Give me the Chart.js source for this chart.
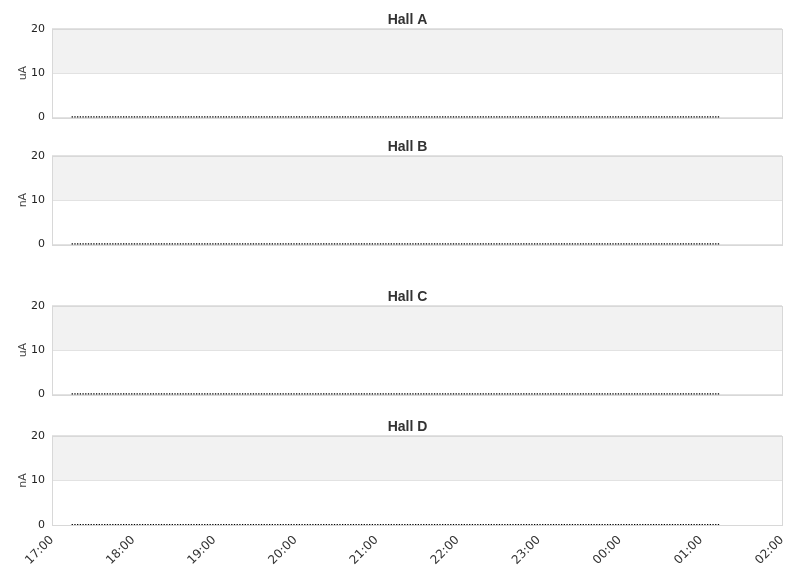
<!DOCTYPE html>
<html>
<head>
<meta charset="utf-8">
<script src="https://cdn.jsdelivr.net/npm/chart.js@4"></script>
<style>
  body { margin: 0; background: #fff; }
  canvas { position: absolute; left: 0; }
</style>
</head>
<body>
<canvas id="hallA" width="811" height="131" style="top:0px"></canvas>
<canvas id="hallB" width="811" height="131" style="top:127px"></canvas>
<canvas id="hallC" width="811" height="131" style="top:277px"></canvas>
<canvas id="hallD" width="811" height="172" style="top:407px"></canvas>
<script>
// sampling: every 2 min from 17:15 to 01:13 (minutes counted from 17:00)
const sampleStart = 15;
const sampleStep = 2;
const times = [];
for (let t = sampleStart; t <= 493; t += sampleStep) times.push(t);

const xTicks = ['17:00', '18:00', '19:00', '20:00', '21:00', '22:00', '23:00', '00:00', '01:00', '02:00'];
const yTicks = [0, 10, 20];

const hallA = [
  0,0,0,0,0,0,0,0,0,0,0,0,0,0,0,0,0,0,0,0,0,0,0,0,
  0,0,0,0,0,0,0,0,0,0,0,0,0,0,0,0,0,0,0,0,0,0,0,0,
  0,0,0,0,0,0,0,0,0,0,0,0,0,0,0,0,0,0,0,0,0,0,0,0,
  0,0,0,0,0,0,0,0,0,0,0,0,0,0,0,0,0,0,0,0,0,0,0,0,
  0,0,0,0,0,0,0,0,0,0,0,0,0,0,0,0,0,0,0,0,0,0,0,0,
  0,0,0,0,0,0,0,0,0,0,0,0,0,0,0,0,0,0,0,0,0,0,0,0,
  0,0,0,0,0,0,0,0,0,0,0,0,0,0,0,0,0,0,0,0,0,0,0,0,
  0,0,0,0,0,0,0,0,0,0,0,0,0,0,0,0,0,0,0,0,0,0,0,0,
  0,0,0,0,0,0,0,0,0,0,0,0,0,0,0,0,0,0,0,0,0,0,0,0,
  0,0,0,0,0,0,0,0,0,0,0,0,0,0,0,0,0,0,0,0,0,0,0,0
];
const hallB = [
  0,0,0,0,0,0,0,0,0,0,0,0,0,0,0,0,0,0,0,0,0,0,0,0,
  0,0,0,0,0,0,0,0,0,0,0,0,0,0,0,0,0,0,0,0,0,0,0,0,
  0,0,0,0,0,0,0,0,0,0,0,0,0,0,0,0,0,0,0,0,0,0,0,0,
  0,0,0,0,0,0,0,0,0,0,0,0,0,0,0,0,0,0,0,0,0,0,0,0,
  0,0,0,0,0,0,0,0,0,0,0,0,0,0,0,0,0,0,0,0,0,0,0,0,
  0,0,0,0,0,0,0,0,0,0,0,0,0,0,0,0,0,0,0,0,0,0,0,0,
  0,0,0,0,0,0,0,0,0,0,0,0,0,0,0,0,0,0,0,0,0,0,0,0,
  0,0,0,0,0,0,0,0,0,0,0,0,0,0,0,0,0,0,0,0,0,0,0,0,
  0,0,0,0,0,0,0,0,0,0,0,0,0,0,0,0,0,0,0,0,0,0,0,0,
  0,0,0,0,0,0,0,0,0,0,0,0,0,0,0,0,0,0,0,0,0,0,0,0
];
const hallC = [
  0,0,0,0,0,0,0,0,0,0,0,0,0,0,0,0,0,0,0,0,0,0,0,0,
  0,0,0,0,0,0,0,0,0,0,0,0,0,0,0,0,0,0,0,0,0,0,0,0,
  0,0,0,0,0,0,0,0,0,0,0,0,0,0,0,0,0,0,0,0,0,0,0,0,
  0,0,0,0,0,0,0,0,0,0,0,0,0,0,0,0,0,0,0,0,0,0,0,0,
  0,0,0,0,0,0,0,0,0,0,0,0,0,0,0,0,0,0,0,0,0,0,0,0,
  0,0,0,0,0,0,0,0,0,0,0,0,0,0,0,0,0,0,0,0,0,0,0,0,
  0,0,0,0,0,0,0,0,0,0,0,0,0,0,0,0,0,0,0,0,0,0,0,0,
  0,0,0,0,0,0,0,0,0,0,0,0,0,0,0,0,0,0,0,0,0,0,0,0,
  0,0,0,0,0,0,0,0,0,0,0,0,0,0,0,0,0,0,0,0,0,0,0,0,
  0,0,0,0,0,0,0,0,0,0,0,0,0,0,0,0,0,0,0,0,0,0,0,0
];
const hallD = [
  0,0,0,0,0,0,0,0,0,0,0,0,0,0,0,0,0,0,0,0,0,0,0,0,
  0,0,0,0,0,0,0,0,0,0,0,0,0,0,0,0,0,0,0,0,0,0,0,0,
  0,0,0,0,0,0,0,0,0,0,0,0,0,0,0,0,0,0,0,0,0,0,0,0,
  0,0,0,0,0,0,0,0,0,0,0,0,0,0,0,0,0,0,0,0,0,0,0,0,
  0,0,0,0,0,0,0,0,0,0,0,0,0,0,0,0,0,0,0,0,0,0,0,0,
  0,0,0,0,0,0,0,0,0,0,0,0,0,0,0,0,0,0,0,0,0,0,0,0,
  0,0,0,0,0,0,0,0,0,0,0,0,0,0,0,0,0,0,0,0,0,0,0,0,
  0,0,0,0,0,0,0,0,0,0,0,0,0,0,0,0,0,0,0,0,0,0,0,0,
  0,0,0,0,0,0,0,0,0,0,0,0,0,0,0,0,0,0,0,0,0,0,0,0,
  0,0,0,0,0,0,0,0,0,0,0,0,0,0,0,0,0,0,0,0,0,0,0,0
];

Chart.defaults.font.family = '"DejaVu Sans", sans-serif';
Chart.defaults.color = '#333';

// grey band 10-20 and thin frame round the plot
const bandPlugin = {
  id: 'bands',
  beforeDraw(chart) {
    const { ctx, chartArea: a, scales: { y } } = chart;
    const top = y.getPixelForValue(20), mid = y.getPixelForValue(10);
    ctx.save();
    ctx.fillStyle = '#f2f2f2';
    ctx.fillRect(a.left, top, a.right - a.left, mid - top);
    ctx.restore();
  },
  beforeDatasetsDraw(chart) {
    const { ctx, chartArea: a } = chart;
    ctx.save();
    ctx.strokeStyle = '#d8d8d8';
    ctx.lineWidth = 1;
    ctx.strokeRect(Math.round(a.left) + 0.5, Math.round(a.top) + 0.5,
      Math.round(a.right - a.left), Math.round(a.bottom - a.top));
    ctx.restore();
  }
};

function makeHall(id, title, unit, values, showX) {
  const pts = times.map((t, i) => ({ x: t, y: values[i] })).filter(p => p.y !== undefined);
  new Chart(document.getElementById(id), {
    type: 'scatter',
    data: {
      datasets: [{
        data: pts,
        pointStyle: 'line',
        rotation: 90,
        pointRadius: 1.1,
        pointBorderWidth: 1.3,
        backgroundColor: '#000',
        borderColor: '#000'
      }]
    },
    options: {
      responsive: false,
      animation: false,
      layout: { padding: { left: 4, right: 0, top: 0, bottom: 0 } },
      plugins: {
        legend: { display: false },
        tooltip: { enabled: false },
        title: {
          display: true,
          text: title,
          color: '#333',
          font: { family: '"Liberation Sans", Arial, sans-serif', size: 14, weight: 'bold' },
          padding: { top: 12, bottom: 0 }
        }
      },
      scales: {
        x: {
          type: 'linear',
          min: 0,
          max: 540,
          grid: { display: false },
          border: { display: false },
          ticks: {
            display: showX,
            stepSize: 60,
            autoSkip: false,
            maxRotation: 45,
            minRotation: 45,
            padding: 0,
            color: '#333',
            font: { size: 12 },
            callback: v => xTicks[Math.round(v / 60)]
          },
          afterFit: s => { s.height = showX ? 54 : 10; }
        },
        y: {
          min: 0,
          max: 20,
          afterBuildTicks: s => { s.ticks = yTicks.map(v => ({ value: v })); },
          grid: { color: '#e2e2e2', drawTicks: false },
          border: { display: false },
          ticks: { padding: 7, color: '#222', font: { size: 11 } },
          title: {
            display: true,
            text: unit,
            color: '#444',
            font: { size: 11 },
            padding: { top: 13, bottom: 0 }
          },
          afterFit: s => { s.width = 48; }
        },
        // empty right-hand strip so the title stays centred on the canvas
        yRight: {
          position: 'right',
          min: 0,
          max: 20,
          grid: { display: false },
          border: { display: false },
          ticks: { display: false },
          afterFit: s => { s.width = 29; }
        }
      }
    },
    plugins: [bandPlugin]
  });
}

makeHall('hallA', 'Hall A', 'uA', hallA, false);
makeHall('hallB', 'Hall B', 'nA', hallB, false);
makeHall('hallC', 'Hall C', 'uA', hallC, false);
makeHall('hallD', 'Hall D', 'nA', hallD, true);
</script>
</body>
</html>
